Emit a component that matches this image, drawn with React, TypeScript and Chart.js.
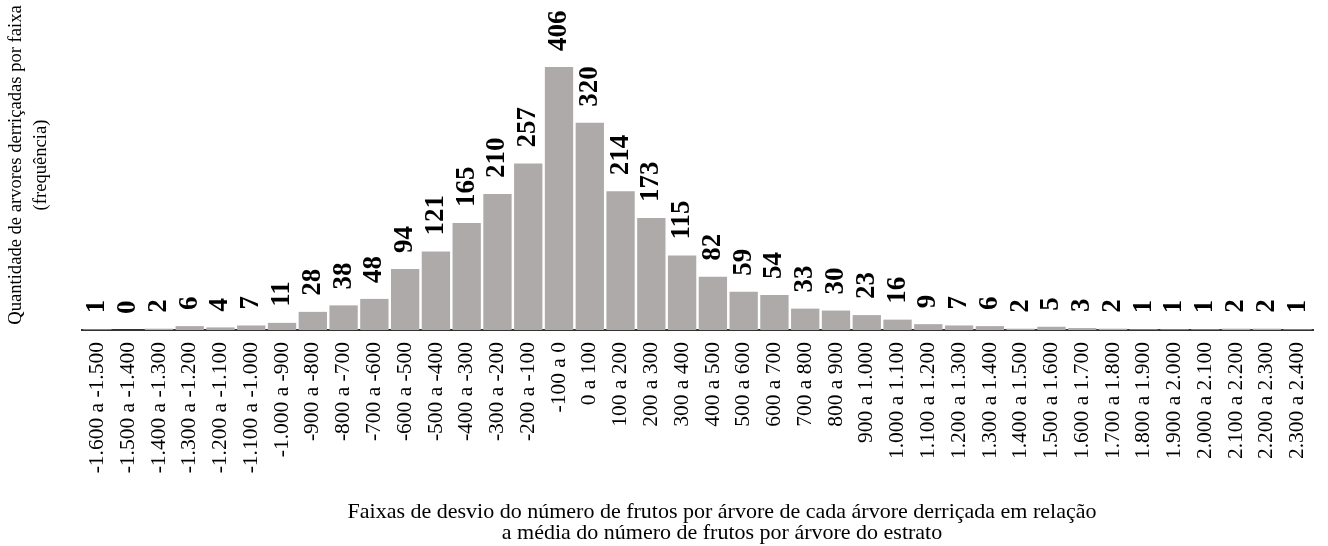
import React, { useEffect, useRef } from "react";
import { Chart, registerables } from "chart.js";

Chart.register(...registerables);

const categories: string[] = [
  "-1.600 a -1.500", "-1.500 a -1.400", "-1.400 a -1.300", "-1.300 a -1.200",
  "-1.200 a -1.100", "-1.100 a -1.000", "-1.000 a -900", "-900 a -800",
  "-800 a -700", "-700 a -600", "-600 a -500", "-500 a -400",
  "-400 a -300", "-300 a -200", "-200 a -100", "-100 a 0",
  "0 a 100", "100 a 200", "200 a 300", "300 a 400",
  "400 a 500", "500 a 600", "600 a 700", "700 a 800",
  "800 a 900", "900 a 1.000", "1.000 a 1.100", "1.100 a 1.200",
  "1.200 a 1.300", "1.300 a 1.400", "1.400 a 1.500", "1.500 a 1.600",
  "1.600 a 1.700", "1.700 a 1.800", "1.800 a 1.900", "1.900 a 2.000",
  "2.000 a 2.100", "2.100 a 2.200", "2.200 a 2.300", "2.300 a 2.400",
];

const frequencies: number[] = [
  1, 0, 2, 6, 4, 7, 11, 28, 38, 48,
  94, 121, 165, 210, 257, 406, 320, 214, 173, 115,
  82, 59, 54, 33, 30, 23, 16, 9, 7, 6,
  2, 5, 3, 2, 1, 1, 1, 2, 2, 1,
];

const yTitleLines: string[] = [
  "Quantidade de arvores derriçadas por faixa",
  "(frequência)",
];

const xTitleLines: string[] = [
  "Faixas de desvio do número de frutos por árvore de cada árvore derriçada em relação",
  "a média do número de frutos por árvore do estrato",
];

const Y_MAX = 500;
const BAR_COLOR = "#AEAAAA";
const FONT = "'Liberation Serif', 'Times New Roman', serif";

const PAGE_W = 1328;
const PAGE_H = 546;

const annotatePlugin = {
  id: "annotate",
  afterDatasetsDraw(chart: any) {
    const ctx: CanvasRenderingContext2D = chart.ctx;
    const meta = chart.getDatasetMeta(0);
    ctx.save();
    ctx.fillStyle = "#000";
    ctx.font = `bold 27px ${FONT}`;
    ctx.textAlign = "left";
    ctx.textBaseline = "middle";
    meta.data.forEach((el: any, i: number) => {
      ctx.save();
      ctx.translate(el.x, el.y - 16);
      ctx.rotate(-Math.PI / 2);
      ctx.fillText(String(frequencies[i]), 0, 0);
      ctx.restore();
    });

    // Y axis title (two lines, rotated)
    ctx.font = `18.6px ${FONT}`;
    ctx.textAlign = "center";
    ctx.textBaseline = "middle";
    const yCenter = 165;
    const yTitleX = [16, 41];
    yTitleLines.forEach((line, i) => {
      ctx.save();
      ctx.translate(yTitleX[i], yCenter);
      ctx.rotate(-Math.PI / 2);
      ctx.fillText(line, 0, 0);
      ctx.restore();
    });

    // X axis title (two lines)
    ctx.font = `22px ${FONT}`;
    ctx.textBaseline = "alphabetic";
    const xCenter = 722;
    const xTitleY = [518, 539];
    xTitleLines.forEach((line, i) => {
      ctx.fillText(line, xCenter, xTitleY[i]);
    });
    ctx.restore();
  },
};

export default function App() {
  const canvasRef = useRef<HTMLCanvasElement | null>(null);

  useEffect(() => {
    const canvas = canvasRef.current;
    if (!canvas) return;
    const chart = new Chart(canvas, {
      type: "bar",
      data: {
        labels: categories,
        datasets: [
          {
            data: frequencies,
            backgroundColor: BAR_COLOR,
            borderWidth: 0,
            categoryPercentage: 1,
            barPercentage: 0.92,
          },
        ],
      },
      options: {
        responsive: false,
        animation: false,
        devicePixelRatio: 1,
        layout: { padding: { left: 82, right: 15, top: 6, bottom: 0 } },
        plugins: {
          legend: { display: false },
          tooltip: { enabled: false },
          title: { display: false },
        },
        scales: {
          x: {
            grid: { display: false, drawTicks: false },
            border: { display: true, color: "#333333", width: 2 },
            ticks: {
              autoSkip: false,
              maxRotation: 90,
              minRotation: 90,
              padding: 12,
              color: "#000",
              font: { family: FONT, size: 21.5 },
            },
            afterFit: (scale: any) => {
              scale.height = 216;
              scale.paddingLeft = 0;
              scale.paddingRight = 0;
            },
          },
          y: {
            display: false,
            min: 0,
            max: Y_MAX,
          },
        },
      },
      plugins: [annotatePlugin],
    });
    return () => chart.destroy();
  }, []);

  return (
    <div style={{ position: "absolute", left: 0, top: 0, width: PAGE_W, height: PAGE_H, background: "#fff" }}>
      <canvas
        ref={canvasRef}
        width={PAGE_W}
        height={PAGE_H}
        style={{ width: `${PAGE_W}px`, height: `${PAGE_H}px`, display: "block" }}
      />
    </div>
  );
}
